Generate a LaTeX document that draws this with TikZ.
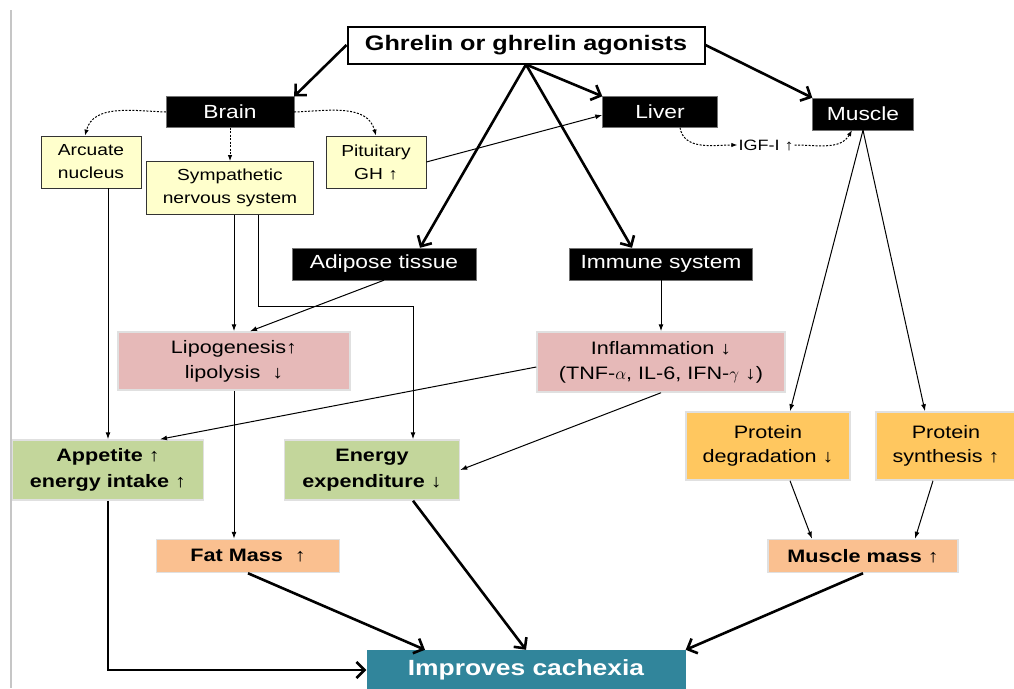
\documentclass[tikz,border=0pt]{standalone}
\usepackage{fontspec}
\setmainfont[FakeStretch=1.2]{Liberation Sans}
\usetikzlibrary{arrows.meta}

\definecolor{boxyellow}{RGB}{255,255,204}
\definecolor{boxpink}{RGB}{230,185,184}
\definecolor{boxgreen}{RGB}{195,214,155}
\definecolor{boxorange}{RGB}{255,199,95}
\definecolor{boxpeach}{RGB}{250,192,144}
\definecolor{boxteal}{RGB}{49,133,155}

\begin{document}
\begin{tikzpicture}[x=1pt, y=1pt,
    title/.style={draw=black, line width=2pt, fill=white, inner sep=0pt, minimum width=357pt, minimum height=37pt, font=\bfseries\fontsize{21}{24}\selectfont},
    organ/.style={fill=black, draw=black!55, text=white, inner sep=0pt, minimum height=31pt, font=\fontsize{19}{22}\selectfont},
    cns/.style={fill=boxyellow, draw=black!80, line width=0.8pt, inner sep=0pt, align=center, font=\fontsize{16}{23}\selectfont},
    effect/.style={fill=boxpink, draw=black!12, line width=1.5pt, inner sep=0pt, align=center, font=\fontsize{18}{25}\selectfont},
    intake/.style={fill=boxgreen, draw=black!12, line width=1.5pt, inner sep=0pt, minimum height=60pt, align=center, font=\bfseries\fontsize{18}{26}\selectfont},
    protein/.style={fill=boxorange, draw=black!12, line width=1.5pt, inner sep=0pt, minimum height=68pt, align=center, font=\fontsize{18}{24}\selectfont},
    mass/.style={fill=boxpeach, draw=black!12, line width=1.5pt, inner sep=0pt, minimum height=33pt, font=\bfseries\fontsize{18}{22}\selectfont},
    outcome/.style={fill=boxteal, text=white, inner sep=0pt, minimum width=319pt, minimum height=40pt, font=\bfseries\fontsize{22}{26}\selectfont},
    main/.style={line width=2.6pt, -{Straight Barb[length=8pt,width=16pt]}},
    link/.style={line width=1pt, -{Latex[length=7pt,width=5pt]}},
    hint/.style={line width=1pt, dash pattern=on 2pt off 1.5pt, -{Latex[length=6pt,width=4.5pt]}}]
  \useasboundingbox (0,0) rectangle (1014,-688);
  \draw [gray!45, line width=2pt] (11,-10) -- (11,-688);

  \node [title] (ghr) at (526,-45) {Ghrelin or ghrelin agonists};
  % row 2
  \node [organ, minimum width=128pt] (brain) at (230,-112) {Brain};
  \node [organ, minimum width=115pt] (liver) at (660,-112) {Liver};
  \node [organ, minimum width=101pt, minimum height=32pt] (muscle) at (863,-114) {Muscle};
  % row 3
  \node [cns, minimum width=100pt, minimum height=52pt] (arc) at (91,-162) {Arcuate\\nucleus};
  \node [cns, minimum width=167pt, minimum height=53pt] (symp) at (230,-188) {Sympathetic\\nervous system};
  \node [cns, minimum width=100pt, minimum height=52pt] (pit) at (376,-162) {Pituitary\\GH ↑};
  \node [inner sep=1pt, font=\fontsize{15}{18}\selectfont] (igf) at (766,-145) {IGF-I ↑};
  % row 4
  \node [organ, minimum width=184pt, minimum height=32pt] (adip) at (384,-264) {Adipose tissue};
  \node [organ, minimum width=183pt, minimum height=32pt] (imm) at (661,-264) {Immune system};
  % row 5
  \node [effect, minimum width=232pt, minimum height=58pt] (lipo) at (234,-361) {Lipogenesis↑\\lipolysis\ \ ↓};
  \node [effect, minimum width=248pt, minimum height=60pt] (infl) at (661,-362) {Inflammation ↓\\(TNF-$\alpha$, IL-6, IFN-$\gamma$ ↓)};
  % row 6
  \node [intake, minimum width=191pt] (app) at (108,-470) {Appetite ↑\\energy intake ↑};
  \node [intake, minimum width=175pt] (energy) at (372,-470) {Energy\\expenditure ↓};
  \node [protein, minimum width=164pt] (pdeg) at (768,-446) {Protein\\degradation ↓};
  \node [protein, minimum width=140pt] (psyn) at (946,-446) {Protein\\synthesis ↑};
  % row 7
  \node [mass, minimum width=183pt] (fat) at (248,-556) {Fat Mass\ \ ↑};
  \node [mass, minimum width=190pt] (mm) at (863,-556) {Muscle mass ↑};
  % bottom
  \node [outcome] (cach) at (526,-670) {Improves cachexia};

  % links
  \draw [main] (ghr.west) -- (brain.north east);
  \draw [main] (ghr.south) -- (liver.north west);
  \draw [main] (ghr.south) -- ([xshift=36pt]adip.north);
  \draw [main] (ghr.south) -- ([xshift=-29pt]imm.north);
  \draw [main] (ghr.east) -- (muscle.north west);
  \draw [hint] (brain.west) to [out=178, in=75] ([xshift=-6pt]arc.north);
  \draw [hint] (brain.south) -- (symp.north);
  \draw [hint] (brain.east) to [out=2, in=105] (pit.north);
  \draw [link] (pit.east) -- ([yshift=-3pt]liver.west);
  \draw [hint] ([xshift=20pt]liver.south) to [out=-80, in=180] (igf.west);
  \draw [hint] (igf.east) to [out=0, in=-120] ([xshift=-11pt]muscle.south);
  \draw [link] (muscle.south) -- ([xshift=22pt]pdeg.north);
  \draw [link] (muscle.south) -- ([xshift=-21pt]psyn.north);
  \draw [link] (arc.south -| app.north) -- (app.north);
  \draw [link] (symp.south -| lipo.north) -- (lipo.north);
  \draw [link] ([xshift=28pt]symp.south) -- ++(0,-92) -| ([xshift=41pt]energy.north);
  \draw [link] (adip.south) -- ([xshift=16pt]lipo.north);
  \draw [link] (imm.south) -- (infl.north);
  \draw [link] ([yshift=-5pt]infl.west) -- ([xshift=52pt]app.north);
  \draw [link] (infl.south) -- (energy.east);
  \draw [link] (lipo.south) -- (lipo.south |- fat.north);
  \draw [link] ([xshift=22pt]pdeg.south) -- ([xshift=-51pt]mm.north);
  \draw [link] ([xshift=-13pt]psyn.south) -- ([xshift=52pt]mm.north);
  \draw [main] (app.south) |- (cach.west);
  \draw [main] (fat.south) -- ([xshift=-101pt]cach.north);
  \draw [main] ([xshift=41pt]energy.south) -- (cach.north);
  \draw [main] (mm.south) -- (cach.north east);
\end{tikzpicture}
\end{document}
